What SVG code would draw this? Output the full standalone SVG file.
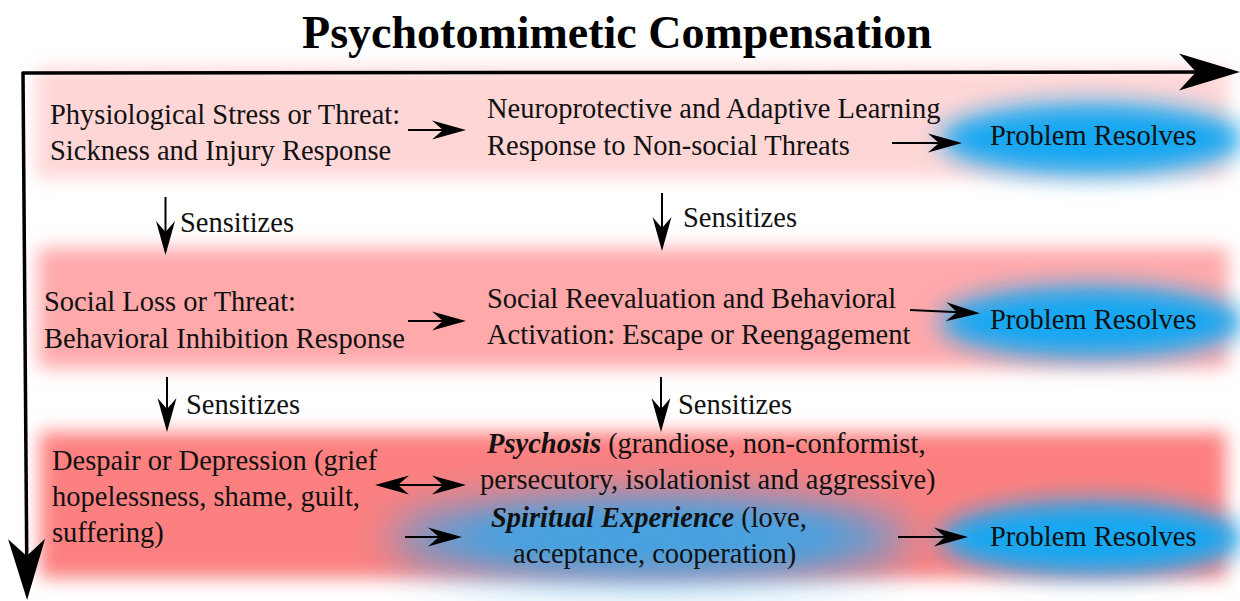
<svg xmlns="http://www.w3.org/2000/svg" width="1240" height="601" viewBox="0 0 1240 601">
  <style>
    .t { font-size: 28.5px; fill: #111; }
    .title { font-size: 46px; font-weight: bold; fill: #000; }
    .bi { font-weight: bold; font-style: italic; }
    .arr { stroke: #000; stroke-width: 2; fill: none; marker-end: url(#head); }
    .axis { stroke: #000; stroke-width: 3.5; fill: none; marker-end: url(#axis-head); }
  </style>
  <defs>
    <filter id="soft" x="-10%" y="-50%" width="120%" height="200%">
      <feGaussianBlur stdDeviation="9"/>
    </filter>
    <filter id="glow" x="-30%" y="-80%" width="160%" height="260%">
      <feGaussianBlur stdDeviation="12"/>
    </filter>
    <filter id="haze" x="-30%" y="-100%" width="160%" height="300%">
      <feGaussianBlur stdDeviation="22"/>
    </filter>
    <filter id="core" x="-30%" y="-100%" width="160%" height="300%">
      <feGaussianBlur stdDeviation="14"/>
    </filter>
    <marker id="head" viewBox="-36 -11 42 22" refX="-4" refY="0" markerWidth="42" markerHeight="22" markerUnits="userSpaceOnUse" orient="auto-start-reverse" overflow="visible">
      <path d="M0,0 L-34,-9.5 L-23,0 L-34,9.5 Z" fill="#000"/>
    </marker>
    <marker id="axis-head" viewBox="-63 -20 75 40" refX="-10" refY="0" markerWidth="75" markerHeight="40" markerUnits="userSpaceOnUse" orient="auto" overflow="visible">
      <path d="M0,0 L-61,-18.5 L-44,0 L-61,18.5 Z" fill="#000"/>
    </marker>
  </defs>

  <rect width="1240" height="601" fill="#fff"/>

  <!-- tinted bands behind each row -->
  <g id="bands">
    <rect x="36" y="68" width="1192" height="110" fill="#ffd6d6" filter="url(#soft)"/>
    <rect x="38" y="248" width="1190" height="120" fill="#ffa9ab" filter="url(#soft)"/>
    <rect x="40" y="432" width="1186" height="146" fill="#fd8080" filter="url(#soft)"/>
    <ellipse cx="650" cy="538" rx="260" ry="42" fill="#3ea2e4" opacity="0.9" filter="url(#haze)"/>
    <ellipse cx="655" cy="536" rx="190" ry="26" fill="#45a2e2" opacity="0.85" filter="url(#core)"/>
  </g>

  <!-- outcome glows -->
  <g id="glows">
    <ellipse cx="1092" cy="139" rx="152" ry="36" fill="#16a7f2" filter="url(#glow)"/>
    <ellipse cx="1092" cy="322" rx="152" ry="36" fill="#16a7f2" filter="url(#glow)"/>
    <ellipse cx="1092" cy="538" rx="152" ry="37" fill="#16a7f2" filter="url(#glow)"/>
  </g>

  <g font-family="Liberation Serif, Times New Roman, serif">
    <text class="title" x="617" y="48" text-anchor="middle">Psychotomimetic Compensation</text>
  </g>

  <!-- axes -->
  <g id="axes">
    <line class="axis" x1="22" y1="73" x2="1230" y2="72"/>
    <line class="axis" x1="23" y1="72" x2="27" y2="590"/>
  </g>

  <!-- connectors -->
  <g id="connectors">
    <line class="arr" x1="408" y1="130" x2="462" y2="130"/>
    <line class="arr" x1="892" y1="143" x2="958" y2="143"/>
    <line class="arr" x1="165.5" y1="197" x2="165.5" y2="251"/>
    <line class="arr" x1="662" y1="193" x2="662" y2="247"/>
    <line class="arr" x1="408" y1="321" x2="462" y2="321"/>
    <line class="arr" x1="910" y1="310" x2="976" y2="313"/>
    <line class="arr" x1="167" y1="377" x2="167" y2="428"/>
    <line class="arr" x1="661" y1="377" x2="661" y2="428"/>
    <line class="arr" x1="379" y1="485" x2="462" y2="485" marker-start="url(#head)"/>
    <line class="arr" x1="405" y1="537" x2="458" y2="537"/>
    <line class="arr" x1="898" y1="537" x2="964" y2="537"/>
  </g>

  <g font-family="Liberation Serif, Times New Roman, serif">
    <!-- edge labels -->
    <g id="labels">
      <text class="t" x="180" y="232">Sensitizes</text>
      <text class="t" x="683" y="227">Sensitizes</text>
      <text class="t" x="186" y="414">Sensitizes</text>
      <text class="t" x="678" y="414">Sensitizes</text>
    </g>

    <g id="physiological-stress">
      <text class="t" x="50" y="124">Physiological Stress or Threat:</text>
      <text class="t" x="50" y="160">Sickness and Injury Response</text>
    </g>
    <g id="neuroprotective">
      <text class="t" x="487" y="118">Neuroprotective and Adaptive Learning</text>
      <text class="t" x="487" y="155">Response to Non-social Threats</text>
    </g>
    <g id="resolves-1">
      <text class="t" x="990" y="145">Problem Resolves</text>
    </g>

    <g id="social-loss">
      <text class="t" x="44" y="311">Social Loss or Threat:</text>
      <text class="t" x="44" y="348">Behavioral Inhibition Response</text>
    </g>
    <g id="social-reevaluation">
      <text class="t" x="487" y="308">Social Reevaluation and Behavioral</text>
      <text class="t" x="487" y="344">Activation: Escape or Reengagement</text>
    </g>
    <g id="resolves-2">
      <text class="t" x="990" y="329">Problem Resolves</text>
    </g>

    <g id="despair">
      <text class="t" x="52" y="470">Despair or Depression (grief</text>
      <text class="t" x="52" y="506">hopelessness, shame, guilt,</text>
      <text class="t" x="52" y="542">suffering)</text>
    </g>
    <g id="psychosis">
      <text class="t" x="487" y="453"><tspan class="bi">Psychosis</tspan> (grandiose, non-conformist,</text>
      <text class="t" x="480" y="489">persecutory, isolationist and aggressive)</text>
    </g>
    <g id="spiritual">
      <text class="t" x="491" y="527"><tspan class="bi">Spiritual Experience</tspan> (love,</text>
      <text class="t" x="513" y="563">acceptance, cooperation)</text>
    </g>
    <g id="resolves-3">
      <text class="t" x="990" y="546">Problem Resolves</text>
    </g>
  </g>
</svg>
